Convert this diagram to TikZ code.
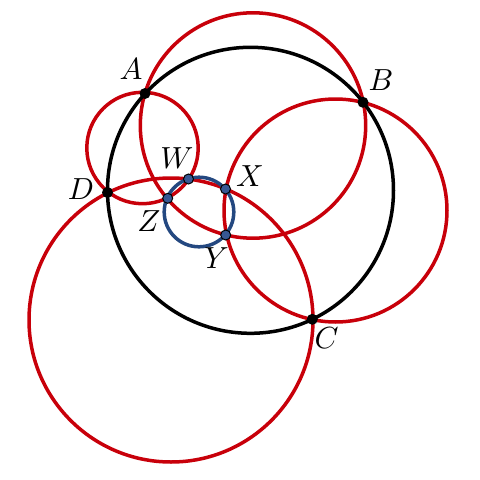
\documentclass[tikz,border=0pt]{standalone}
\begin{document}
\begin{tikzpicture}[x=1pt,y=-1pt,
  redc/.style={draw={rgb,255:red,200;green,0;blue,10},line width=3.5pt},
  blackc/.style={draw=black,line width=3.5pt},
  bluec/.style={draw={rgb,255:red,36;green,72;blue,128},line width=3.5pt},
  bdot/.style={circle,fill=black,inner sep=0pt,minimum size=11pt},
  pdot/.style={circle,fill={rgb,255:red,55;green,88;blue,148},draw=black,line width=1pt,inner sep=0pt,minimum size=10pt},
  lab/.style={inner sep=0pt,scale=3.05}]
\useasboundingbox (0,0) rectangle (480,480);
% centres
\coordinate (O) at (250.5,190.3);
\coordinate (Q) at (199,212);
\coordinate (C1) at (142.5,148);
\coordinate (C2) at (253,125.5);
\coordinate (C3) at (335.5,210.5);
\coordinate (C4) at (171,320);
% red circles
\draw[redc] (C1) circle[radius=55.7];
\draw[redc] (C2) circle[radius=112.7];
\draw[redc] (C3) circle[radius=111.5];
\draw[redc] (C4) circle[radius=142];
% black circle
\draw[blackc] (O) circle[radius=143];
% blue circle
\draw[bluec] (Q) circle[radius=34.8];
% points
\node[bdot] (A) at (145,93.5) {};
\node[bdot] (B) at (363,102.3) {};
\node[bdot] (C) at (312.3,319.3) {};
\node[bdot] (D) at (107.5,192.5) {};
\node[pdot] (W) at (188.5,179) {};
\node[pdot] (X) at (225.5,189) {};
\node[pdot] (Y) at (225.7,235) {};
\node[pdot] (Z) at (167.7,198.3) {};
% labels
\node[lab] (lA) at (131,69) {$A$};
\node[lab] (lB) at (381,80) {$B$};
\node[lab] (lC) at (326.5,338.5) {$C$};
\node[lab] (lD) at (81,189) {$D$};
\node[lab] (lW) at (177,158) {$W$};
\node[lab] (lX) at (250,176) {$X$};
\node[lab] (lY) at (216.5,258) {$Y$};
\node[lab] (lZ) at (149,221) {$Z$};
\end{tikzpicture}
\end{document}
